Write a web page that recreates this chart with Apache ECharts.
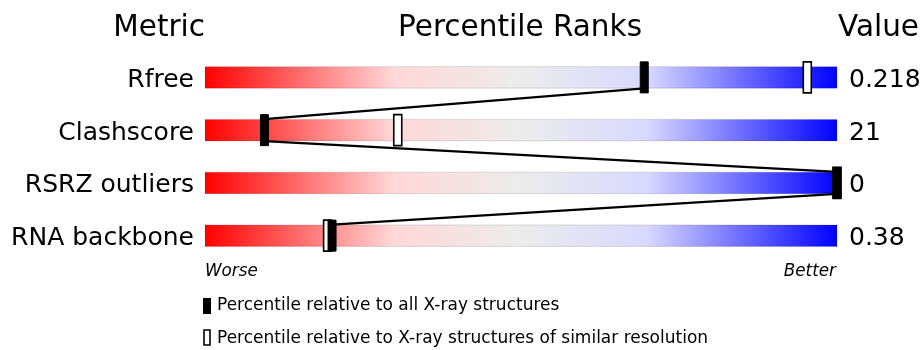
<!DOCTYPE html>
<html>
<head>
<meta charset="utf-8">
<script src="https://cdn.jsdelivr.net/npm/echarts@6/dist/echarts.min.js"></script>
<style>
html, body { margin: 0; padding: 0; background: #fff; }
#chart { width: 922px; height: 350px; }
</style>
</head>
<body>
<div id="chart"></div>
<script>
// rows, shown values and percentile positions (0..100)
const metrics = ['Rfree', 'Clashscore', 'RSRZ outliers', 'RNA backbone']
const values = ['0.218', '21', '0', '0.38']
const pctAll = [69.5, 9.4, 100, 20.1]
const pctSimilar = [95.3, 30.5, 100, 19.4]
const legendNames = ['Percentile relative to all X-ray structures', 'Percentile relative to X-ray structures of similar resolution']

const FONT = 'DejaVu Sans'

var myChart = echarts.init(document.getElementById('chart'))

const barGradient = new echarts.graphic.LinearGradient(0, 0, 1, 0, [
	{ offset: 0, color: '#ff0000' },
	{ offset: 0.3, color: '#ffd8d8' },
	{ offset: 0.5, color: '#ececec' },
	{ offset: 0.7, color: '#d8d8ff' },
	{ offset: 1, color: '#0000ff' }
])

function markerItem(filled) {
	return function(params, api) {
		const pt = api.coord([api.value(0), api.value(1)])
		return {
			type: 'rect',
			shape: { x: pt[0] - 4, y: pt[1] - 15.5, width: 8, height: 31 },
			style: filled ?
				{ fill: '#000', stroke: '#000', lineWidth: 1 } :
				{ fill: '#fff', stroke: '#000', lineWidth: 1.6 }
		}
	}
}

const links = []
for (let i = 0; i < pctAll.length - 1; i++) {
	links.push([pctAll[i], i, pctAll[i + 1], i + 1])
}

// header / footer texts
function txt(text, x, y, size, align, italic) {
	return {
		type: 'text', x: x, y: y,
		style: {
			text: text, fontSize: size, fontFamily: FONT, fill: '#000',
			align: align, verticalAlign: 'middle', fontStyle: italic ? 'italic' : 'normal'
		}
	}
}

// row labels sit a little lower than the track centre
const rowLabel = {
	formatter: v => '{a|' + v + '}',
	rich: { a: { color: '#000', fontSize: 25, fontFamily: FONT, padding: [6, 0, 0, 0] } }
}

var option = {
	animation: false,
	textStyle: { fontFamily: FONT },
	grid: { left: 205, right: 85, top: 51, bottom: 88, outerBoundsMode: 'none', containLabel: false },
	xAxis: { type: 'value', min: 0, max: 100, show: false },
	yAxis: [{
		type: 'category',
		data: metrics,
		inverse: true,
		axisLine: { show: false },
		axisTick: { show: false },
		axisLabel: Object.assign({ margin: 11 }, rowLabel)
	}, {
		type: 'category',
		data: values,
		inverse: true,
		position: 'right',
		axisLine: { show: false },
		axisTick: { show: false },
		axisLabel: Object.assign({ margin: 12 }, rowLabel)
	}],
	graphic: [
		txt('Metric', 205, 28, 29.5, 'right'),
		txt('Percentile Ranks', 520, 28, 29.5, 'center'),
		txt('Value', 838, 28, 29.5, 'left'),
		txt('Worse', 205, 272, 16.8, 'left', true),
		txt('Better', 836, 272, 16.8, 'right', true),
		{ type: 'rect', shape: { x: 203, y: 298, width: 8, height: 16 }, style: { fill: '#000' } },
		{ type: 'rect', shape: { x: 204, y: 330, width: 6, height: 15 }, style: { fill: '#fff', stroke: '#000', lineWidth: 1.6 } },
		txt(legendNames[0], 217, 306, 17, 'left'),
		txt(legendNames[1], 217, 339, 17, 'left')
	],
	series: [{
		// gradient tracks
		type: 'custom',
		silent: true,
		encode: { x: 0, y: 1 },
		data: metrics.map((m, i) => [100, i]),
		renderItem: function(params, api) {
			const a = api.coord([0, api.value(1)])
			const b = api.coord([100, api.value(1)])
			return {
				type: 'rect',
				shape: { x: a[0], y: a[1] - 10.75, width: b[0] - a[0], height: 21.5 },
				style: { fill: barGradient, stroke: 'rgba(0,0,0,0.12)', lineWidth: 1 }
			}
		}
	}, {
		// connecting lines between filled markers
		type: 'custom',
		silent: true,
		encode: { x: 0, y: 1 },
		data: links,
		renderItem: function(params, api) {
			const a = api.coord([api.value(0), api.value(1)])
			const b = api.coord([api.value(2), api.value(3)])
			return {
				type: 'line',
				shape: { x1: a[0], y1: a[1] + 11, x2: b[0], y2: b[1] - 11 },
				style: { stroke: '#000', lineWidth: 2.4 }
			}
		}
	}, {
		name: legendNames[1],
		type: 'custom',
		encode: { x: 0, y: 1 },
		data: pctSimilar.map((p, i) => [p, i]),
		renderItem: markerItem(false)
	}, {
		name: legendNames[0],
		type: 'custom',
		encode: { x: 0, y: 1 },
		data: pctAll.map((p, i) => [p, i]),
		renderItem: markerItem(true)
	}]
}

myChart.setOption(option)
</script>
</body>
</html>
